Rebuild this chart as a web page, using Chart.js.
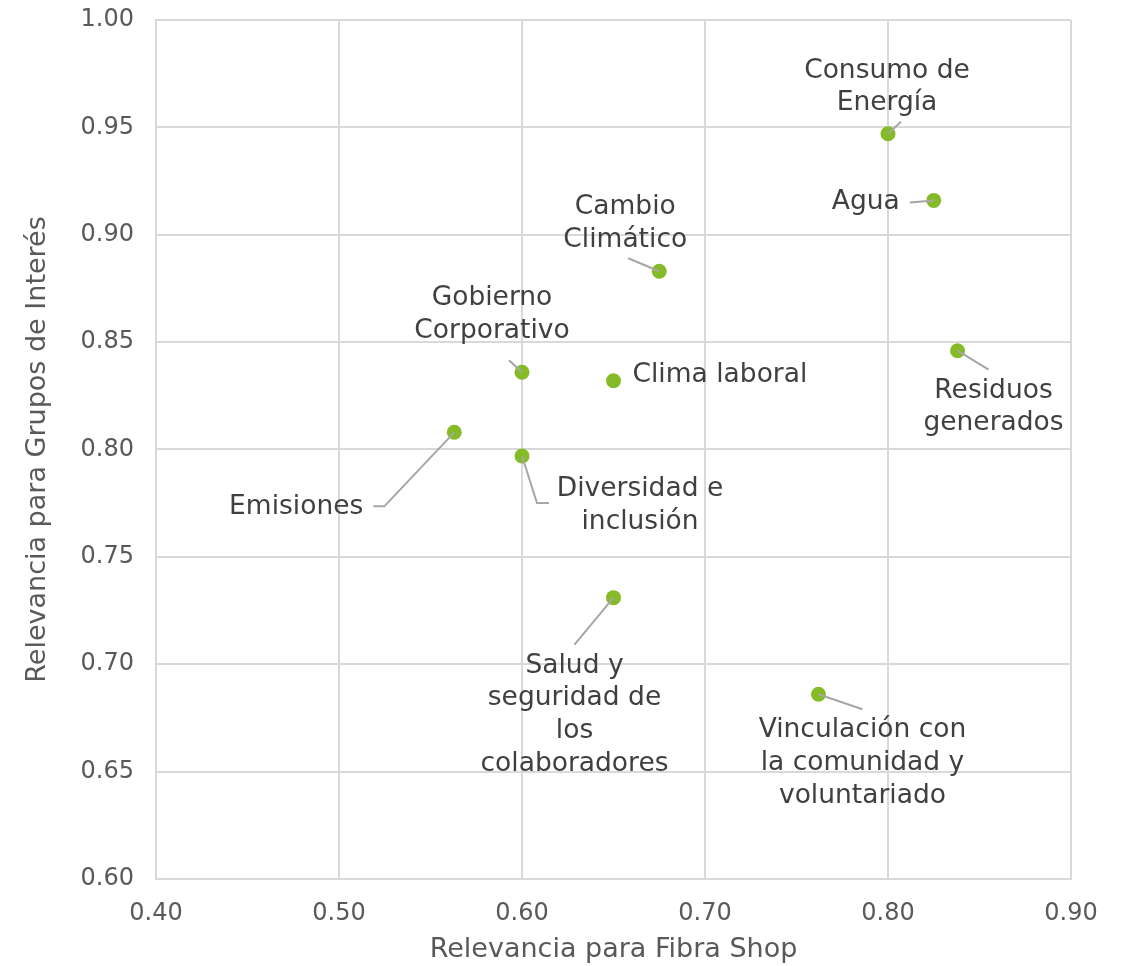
<!DOCTYPE html>
<html>
<head>
<meta charset="utf-8">
<script src="https://cdn.jsdelivr.net/npm/chart.js@4"></script>
<style>
  html, body { margin: 0; padding: 0; background: #ffffff; }
  #wrap { width: 1127px; height: 966px; position: relative; }
</style>
</head>
<body>
<div id="wrap"><canvas id="c"></canvas></div>
<script>
// ---- Data ----
const topics = [
  ["Consumo de", "Energía"],
  ["Agua"],
  ["Cambio", "Climático"],
  ["Gobierno", "Corporativo"],
  ["Clima laboral"],
  ["Residuos", "generados"],
  ["Emisiones"],
  ["Diversidad e", "inclusión"],
  ["Salud y", "seguridad de", "los", "colaboradores"],
  ["Vinculación con", "la comunidad y", "voluntariado"]
];
const fibraShop     = [0.800, 0.825, 0.675, 0.600, 0.650, 0.838, 0.563, 0.600, 0.650, 0.762];
const gruposInteres = [0.947, 0.916, 0.883, 0.836, 0.832, 0.846, 0.808, 0.797, 0.731, 0.686];
const xTicks = [0.40, 0.50, 0.60, 0.70, 0.80, 0.90];
const yTicks = [0.60, 0.65, 0.70, 0.75, 0.80, 0.85, 0.90, 0.95, 1.00];
const xTitle = "Relevancia para Fibra Shop";
const yTitle = "Relevancia para Grupos de Interés";

// ---- Label layout (pixel offsets relative to each point) ----
const labelLayout = [
  { dx: -1,  dy: -63, align: "center", leader: [[0,0],[13,-12]] },
  { dx: -34, dy: 2,   align: "right",  leader: [[0,0],[-24,2]] },
  { dx: -34, dy: -64, align: "center", leader: [[0,0],[-31,-13]] },
  { dx: -30, dy: -74, align: "center", leader: [[0,0],[-13,-12]] },
  { dx: 19,  dy: -6,  align: "left",   leader: null },
  { dx: 36,  dy: 40,  align: "center", leader: [[0,0],[31,19]] },
  { dx: -91, dy: 75,  align: "right",  leader: [[0,0],[-70,74],[-81,74]] },
  { dx: 118, dy: 33,  align: "center", leader: [[0,0],[15,47],[27,47]] },
  { dx: -39, dy: 68,  align: "center", leader: [[0,0],[-39,47]] },
  { dx: 44,  dy: 36,  align: "center", leader: [[0,0],[44,15]] }
];

const FONT = "'DejaVu Sans', Verdana, sans-serif";

const labelPlugin = {
  id: "pointLabels",
  afterDatasetsDraw(chart) {
    const ctx = chart.ctx;
    const meta = chart.getDatasetMeta(0);
    ctx.save();
    meta.data.forEach((pt, i) => {
      const L = labelLayout[i];
      const px = pt.x, py = pt.y;
      if (L.leader) {
        ctx.beginPath();
        ctx.strokeStyle = "#a6a6a6";
        ctx.lineWidth = 2;
        L.leader.forEach((p, k) => {
          if (k === 0) ctx.moveTo(px + p[0], py + p[1]);
          else ctx.lineTo(px + p[0], py + p[1]);
        });
        ctx.stroke();
      }
      ctx.fillStyle = "#404040";
      ctx.font = "26.5px " + FONT;
      ctx.textAlign = L.align;
      ctx.textBaseline = "middle";
      topics[i].forEach((line, k) => {
        ctx.fillText(line, px + L.dx, py + L.dy + k * 32.7);
      });
    });
    ctx.restore();
  }
};

const points = fibraShop.map((x, i) => ({ x: x, y: gruposInteres[i] }));

new Chart(document.getElementById("c"), {
  type: "scatter",
  data: {
    datasets: [{
      data: points,
      pointRadius: 7.5,
      pointHoverRadius: 7.5,
      pointBackgroundColor: "#84bb27",
      pointBorderColor: "#84bb27",
      pointBorderWidth: 0
    }]
  },
  options: {
    responsive: true,
    maintainAspectRatio: false,
    animation: false,
    events: [],
    layout: { padding: { top: 20, right: 56, left: 22, bottom: 0 } },
    plugins: { legend: { display: false }, tooltip: { enabled: false } },
    scales: {
      x: {
        type: "linear",
        min: 0.40, max: 0.90,
        afterBuildTicks: (s) => { s.ticks = xTicks.map(v => ({ value: v })); },
        afterFit: (s) => { s.height = 87; s.paddingLeft = 0; s.paddingRight = 0; },
        grid: { color: "#d9d9d9", lineWidth: 2, drawTicks: false },
        border: { color: "#d9d9d9", width: 2 },
        ticks: {
          color: "#595959", font: { family: FONT, size: 24 }, padding: 20,
          callback: (v) => Number(v).toFixed(2), maxRotation: 0, autoSkip: false
        },
        title: {
          display: true, text: xTitle, color: "#595959",
          font: { family: FONT, size: 27 }, padding: { top: 6, bottom: 0 }
        }
      },
      y: {
        type: "linear",
        min: 0.60, max: 1.00,
        afterBuildTicks: (s) => { s.ticks = yTicks.map(v => ({ value: v })); },
        afterFit: (s) => { s.width = 134; s.paddingTop = 0; s.paddingBottom = 0; },
        grid: { color: "#d9d9d9", lineWidth: 2, drawTicks: false },
        border: { color: "#d9d9d9", width: 2 },
        ticks: {
          color: "#595959", font: { family: FONT, size: 24 }, padding: 22,
          callback: (v) => Number(v).toFixed(2), autoSkip: false
        },
        title: {
          display: true, text: yTitle, color: "#595959",
          font: { family: FONT, size: 27 }, padding: { top: 0, bottom: 0 }
        }
      }
    }
  },
  plugins: [labelPlugin]
});
</script>
</body>
</html>
